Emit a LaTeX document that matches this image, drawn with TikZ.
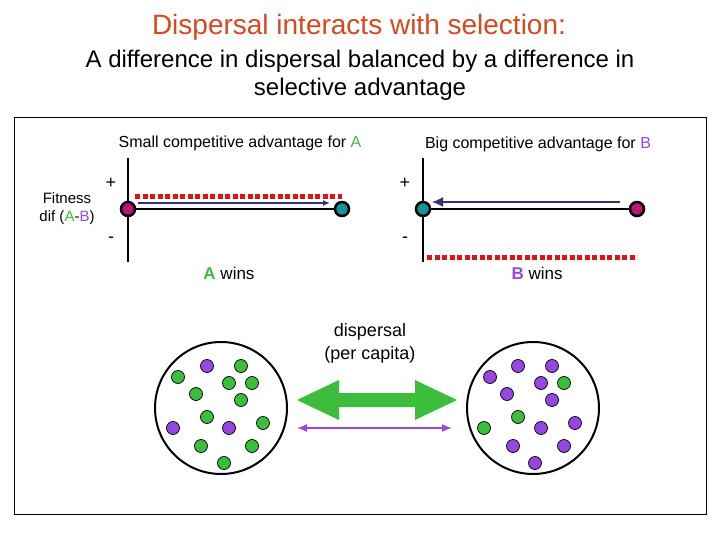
\documentclass[tikz,border=0pt]{standalone}
\usepackage{fontspec}
\setmainfont{Liberation Sans}
\usetikzlibrary{arrows.meta}
\definecolor{tred}{RGB}{214,72,30}
\definecolor{gA}{RGB}{60,190,60}
\definecolor{pB}{RGB}{150,70,225}
\definecolor{mag}{RGB}{190,20,120}
\definecolor{teal2}{RGB}{20,150,150}
\definecolor{dred}{RGB}{220,20,20}
\definecolor{navy}{RGB}{50,50,120}
\begin{document}
\begin{tikzpicture}[x=1pt,y=-1pt,
  lbl/.style={inner sep=0pt,font=\fontsize{16}{18}\selectfont},
  axis/.style={line width=1.8pt},
  pt/.style={circle,draw=black,line width=2.5pt,minimum size=14pt,inner sep=0pt},
  dotted red/.style={dred,line width=5pt,dash pattern=on 5pt off 2.5pt},
  pdot/.style={circle,draw=black,line width=0.7pt,minimum size=13pt,inner sep=0pt},
  ga/.style={pdot,fill=gA},pb/.style={pdot,fill=pB}]
\useasboundingbox (0,0) rectangle (720,540);
\node[inner sep=0pt,text=tred,font=\fontsize{28}{32}\selectfont] (t1) at (359,27) {Dispersal interacts with selection:};
\node[inner sep=0pt,font=\fontsize{24}{28}\selectfont] (t2) at (360,61) {A difference in dispersal balanced by a difference in};
\node[inner sep=0pt,font=\fontsize{24}{28}\selectfont] (t3) at (360,89) {selective advantage};
\draw[line width=0.8pt] (14,117) rectangle (706,514);
% left panel
\node[lbl] (sl) at (240,143) {Small competitive advantage for \textcolor{gA}{A}};
\node[lbl,font=\fontsize{15}{17}\selectfont] (f1) at (67,198) {Fitness};
\node[lbl,font=\fontsize{15}{17}\selectfont] (f2) at (67,218) {dif (\textcolor{gA}{A}-\textcolor{pB}{B})};
\node[lbl,font=\fontsize{18}{20}\selectfont] (p1) at (111,183) {+};
\node[lbl,font=\fontsize{18}{20}\selectfont] (m1) at (111,240) {-};
\coordinate (la1) at (128,158); \coordinate (la2) at (128,262);
\draw[axis] (la1) -- (la2);
\draw[dotted red] (135,197) -- (342,197);
\node[pt,fill=mag] (lm) at (128,209) {};
\node[pt,fill=teal2] (lt) at (342,209) {};
\draw[axis] (lm) -- (lt);
\coordinate (lr1) at (138,203); \coordinate (lr2) at (330,203);
\draw[navy,line width=1.3pt,-{Latex[length=7pt,width=6pt]}] (lr1) -- (lr2);
\node[lbl,font=\fontsize{17}{19}\selectfont] (aw) at (229,273) {\textcolor{gA}{\textbf{A}} wins};
% right panel
\node[lbl] (bl) at (538,144) {Big competitive advantage for \textcolor{pB}{B}};
\node[lbl,font=\fontsize{18}{20}\selectfont] (p2) at (405,183) {+};
\node[lbl,font=\fontsize{18}{20}\selectfont] (m2) at (405,240) {-};
\coordinate (ra1) at (423,158); \coordinate (ra2) at (423,262);
\draw[axis] (ra1) -- (ra2);
\draw[dotted red] (427,257) -- (637,257);
\node[pt,fill=teal2] (rt) at (423,209) {};
\node[pt,fill=mag] (rm) at (637,209) {};
\draw[axis] (rt) -- (rm);
\coordinate (rr1) at (620,202); \coordinate (rr2) at (432,202);
\draw[navy,line width=1.3pt,-{Latex[length=11pt,width=10pt]}] (rr1) -- (rr2);
\node[lbl,font=\fontsize{17}{19}\selectfont] (bw) at (537,273) {\textcolor{pB}{\textbf{B}} wins};
% dispersal
\node[lbl,font=\fontsize{18}{20}\selectfont] (d1) at (370,332) {dispersal};
\node[lbl,font=\fontsize{18}{20}\selectfont] (d2) at (370,355) {(per capita)};
\node[circle,draw,line width=2pt,minimum size=132pt,inner sep=0pt] (cl) at (221,408) {};
\node[circle,draw,line width=2pt,minimum size=132pt,inner sep=0pt] (cr) at (533,408) {};
\fill[gA] (297,400) -- (339,380) -- (339,393) -- (415,393) -- (415,380) -- (457,400) -- (415,420) -- (415,407) -- (339,407) -- (339,420) -- cycle;
\coordinate (pa1) at (297,428); \coordinate (pa2) at (452,428);
\draw[pB,line width=1.5pt,{Latex[length=10pt,width=8pt]}-{Latex[length=10pt,width=8pt]}] (pa1) -- (pa2);
% left dots
\node[pb] (l1) at (207,366) {}; \node[ga] (l2) at (241,366) {};
\node[ga] (l3) at (178,377) {}; \node[ga] (l4) at (229,383) {};
\node[ga] (l5) at (252,383) {}; \node[ga] (l6) at (196,394) {};
\node[ga] (l7) at (241,400) {}; \node[ga] (l8) at (207,417) {};
\node[pb] (l9) at (173,428) {}; \node[pb] (l10) at (229,428) {};
\node[ga] (l11) at (263,423) {}; \node[ga] (l12) at (201,446) {};
\node[ga] (l13) at (252,446) {}; \node[ga] (l14) at (224,463) {};
% right dots
\node[pb] (r1) at (490,377) {}; \node[pb] (r2) at (518,366) {};
\node[pb] (r3) at (552,366) {}; \node[pb] (r4) at (541,383) {};
\node[ga] (r5) at (564,383) {}; \node[pb] (r6) at (507,394) {};
\node[pb] (r7) at (552,400) {}; \node[ga] (r8) at (518,417) {};
\node[ga] (r9) at (484,428) {}; \node[pb] (r10) at (541,428) {};
\node[pb] (r11) at (575,423) {}; \node[pb] (r12) at (513,446) {};
\node[pb] (r13) at (564,446) {}; \node[pb] (r14) at (535,463) {};
\end{tikzpicture}
\end{document}
